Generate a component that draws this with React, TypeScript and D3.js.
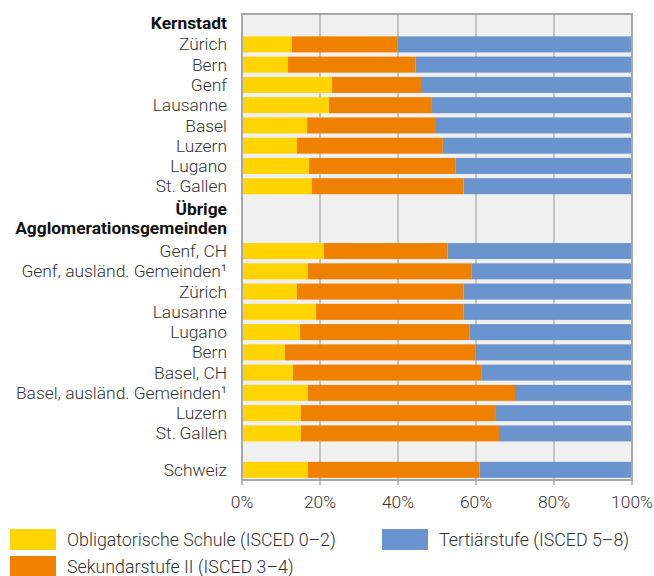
import React from "react";
import * as d3 from "d3";

// ---- data ----
const kernCities = ["Zürich", "Bern", "Genf", "Lausanne", "Basel", "Luzern", "Lugano", "St.\u2009Gallen"];
const kernObl = [12.8, 11.8, 23.1, 22.3, 16.7, 14.1, 17.2, 17.9];
const kernSek = [27.1, 32.7, 22.8, 26.2, 32.8, 37.4, 37.6, 38.9];
const kernTert = [60.1, 55.5, 54.1, 51.5, 50.5, 48.5, 45.2, 43.2];

const aggloCities = [
  "Genf, CH",
  "Genf, ausländ. Gemeinden\u00b9",
  "Zürich",
  "Lausanne",
  "Lugano",
  "Bern",
  "Basel, CH",
  "Basel, ausländ. Gemeinden\u00b9",
  "Luzern",
  "St.\u2009Gallen",
];
const aggloObl = [21.0, 16.9, 14.1, 19.0, 14.9, 11.0, 13.1, 16.9, 15.1, 15.1];
const aggloSek = [31.7, 42.0, 42.7, 37.8, 43.5, 48.9, 48.4, 53.1, 49.8, 50.8];
const aggloTert = [47.3, 41.1, 43.2, 43.2, 41.6, 40.1, 38.5, 30.0, 35.1, 34.1];

const chCity = "Schweiz";
const chObl = 16.9;
const chSek = 44.0;
const chTert = 39.1;

const groupHeaders = ["Kernstadt", "Übrige\nAgglomerationsgemeinden"];
const seriesNames = ["Obligatorische Schule (ISCED 0\u20132)", "Sekundarstufe II (ISCED 3\u20134)", "Tertiärstufe (ISCED 5\u20138)"];
const xTicks = [0, 20, 40, 60, 80, 100];

// ---- layout/style ----
const W = 654;
const H = 576;
const plotLeft = 242;
const plotRight = 632;
const plotTop = 14;
const plotBottom = 480;
const COLORS = ["#FFD400", "#F08000", "#6A94CD"];
const HEADER1_UNITS = 1;
const HEADER2_UNITS = 2.2;
const GAP_UNITS = 0.8;
const BAR_FRAC = 0.79;
const FONT = "Roboto, 'Noto Sans', sans-serif";
const TEXT = "#333333";
const FS = 17.4;
const FS_LEG = 17.8;

type Row = { label: string; obl: number; sek: number; tert: number; unit: number };

export default function App() {
  const rows: Row[] = [];
  let u = HEADER1_UNITS;
  kernCities.forEach((c, i) => {
    rows.push({ label: c, obl: kernObl[i], sek: kernSek[i], tert: kernTert[i], unit: u });
    u += 1;
  });
  const header2Unit = u;
  u += HEADER2_UNITS;
  aggloCities.forEach((c, i) => {
    rows.push({ label: c, obl: aggloObl[i], sek: aggloSek[i], tert: aggloTert[i], unit: u });
    u += 1;
  });
  u += GAP_UNITS;
  rows.push({ label: chCity, obl: chObl, sek: chSek, tert: chTert, unit: u });
  u += 1;
  const totalUnits = u;

  const x = d3.scaleLinear().domain([0, 100]).range([plotLeft, plotRight]);
  const y = d3.scaleLinear().domain([0, totalUnits]).range([plotTop, plotBottom]);
  const pitch = y(1) - y(0);
  const barH = pitch * BAR_FRAC;

  const stack = d3.stack<Row>().keys(["obl", "sek", "tert"]);
  const series = stack(rows);

  const labelX = 227;

  return (
    <svg width={W} height={H} style={{ position: "absolute", left: 0, top: 0, background: "#fff" }} fontFamily={FONT}>
      <rect x={plotLeft} y={plotTop} width={plotRight - plotLeft} height={plotBottom - plotTop} fill="#F0F0F0" />
      {xTicks.slice(1, -1).map((t) => (
        <line key={t} x1={x(t)} x2={x(t)} y1={plotTop} y2={plotBottom} stroke="#B5B5B5" strokeWidth={1.5} />
      ))}
      {series.map((s, si) =>
        s.map((d, i) => (
          <rect
            key={si + "-" + i}
            x={x(d[0])}
            width={x(d[1]) - x(d[0])}
            y={y(rows[i].unit) + (pitch - barH) / 2}
            height={barH}
            fill={COLORS[si]}
          />
        ))
      )}
      <rect x={plotLeft} y={plotTop} width={plotRight - plotLeft} height={plotBottom - plotTop} fill="none" stroke="#A8A8A8" strokeWidth={2} />
      {xTicks.map((t) => (
        <g key={t}>
          <line x1={x(t)} x2={x(t)} y1={plotBottom} y2={plotBottom + 5} stroke="#A8A8A8" strokeWidth={1.5} />
          <text x={x(t)} y={508} textAnchor="middle" fontSize={FS} fill={TEXT} fontWeight={300}>
            {t + "%"}
          </text>
        </g>
      ))}
      {rows.map((r, i) => (
        <text key={i} x={labelX} y={y(r.unit) + pitch / 2} dy="0.35em" textAnchor="end" fontSize={FS} fill={TEXT} fontWeight={300}>
          {r.label}
        </text>
      ))}
      <text x={labelX} y={y(0) + pitch / 2 - 1} dy="0.35em" textAnchor="end" fontSize={FS} fill="#111" fontWeight={700}>
        {groupHeaders[0]}
      </text>
      {groupHeaders[1].split("\n").map((line, li) => (
        <text
          key={li}
          x={labelX}
          y={y(header2Unit) + pitch / 2 + 2 + li * 19}
          dy="0.35em"
          textAnchor="end"
          fontSize={FS}
          fill="#111"
          fontWeight={700}
        >
          {line}
        </text>
      ))}
      {/* legend */}
      {[
        { i: 0, sx: 10, sy: 529 },
        { i: 2, sx: 382, sy: 529 },
        { i: 1, sx: 10, sy: 556 },
      ].map(({ i, sx, sy }) => (
        <g key={i}>
          <rect x={sx} y={sy} width={46} height={21} fill={COLORS[i]} />
          <text x={sx + 57} y={sy + 10.5} dy="0.35em" fontSize={FS_LEG} fill={TEXT} fontWeight={300}>
            {seriesNames[i]}
          </text>
        </g>
      ))}
    </svg>
  );
}
